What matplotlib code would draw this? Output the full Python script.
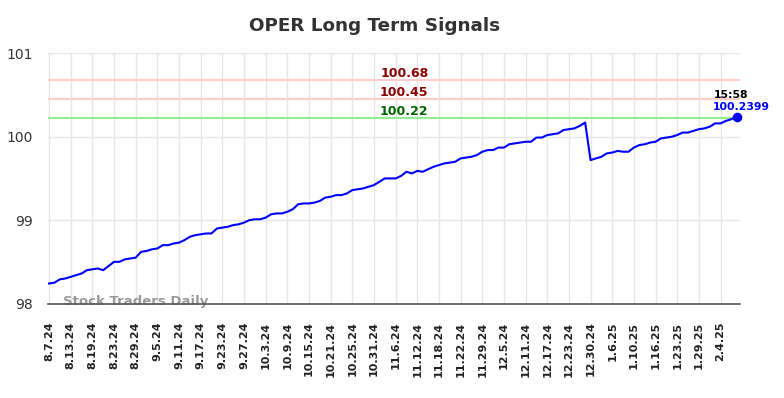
import numpy as np
import matplotlib
matplotlib.use("Agg")
import matplotlib.pyplot as plt

# Data (one value per trading day, 8.7.24 -> 2.7.25)
prices = [
    98.24, 98.25, 98.29, 98.30, 98.32, 98.34, 98.36, 98.40, 98.41, 98.42,
    98.40, 98.45, 98.50, 98.50, 98.53, 98.54, 98.55, 98.62, 98.63, 98.65,
    98.66, 98.70, 98.70, 98.72, 98.73, 98.76, 98.80, 98.82, 98.83, 98.84,
    98.84, 98.90, 98.91, 98.92, 98.94, 98.95, 98.97, 99.00, 99.01, 99.01,
    99.03, 99.07, 99.08, 99.08, 99.10, 99.13, 99.19, 99.20, 99.20, 99.21,
    99.23, 99.27, 99.28, 99.30, 99.30, 99.32, 99.36, 99.37, 99.38, 99.40,
    99.42, 99.46, 99.50, 99.50, 99.50, 99.53, 99.58, 99.56, 99.59, 99.58,
    99.61, 99.64, 99.66, 99.68, 99.69, 99.70, 99.74, 99.75, 99.76, 99.78,
    99.82, 99.84, 99.84, 99.87, 99.87, 99.91, 99.92, 99.93, 99.94, 99.94,
    99.99, 99.99, 100.02, 100.03, 100.04, 100.08, 100.09, 100.10, 100.13, 100.17,
    99.72, 99.74, 99.76, 99.80, 99.81, 99.83, 99.82, 99.82, 99.87, 99.90,
    99.91, 99.93, 99.94, 99.98, 99.99, 100.00, 100.02, 100.05, 100.05, 100.07,
    100.09, 100.10, 100.12, 100.16, 100.16, 100.19, 100.21, 100.2399,
]
tick_labels = [
    "8.7.24", "8.13.24", "8.19.24", "8.23.24", "8.29.24", "9.5.24", "9.11.24",
    "9.17.24", "9.23.24", "9.27.24", "10.3.24", "10.9.24", "10.15.24",
    "10.21.24", "10.25.24", "10.31.24", "11.6.24", "11.12.24", "11.18.24",
    "11.22.24", "11.29.24", "12.5.24", "12.11.24", "12.17.24", "12.23.24",
    "12.30.24", "1.6.25", "1.10.25", "1.16.25", "1.23.25", "1.29.25", "2.4.25",
]
tick_step = 4
signal_levels = [100.68, 100.45, 100.22]
signal_line_colors = ["#ffcccc", "#ffcccc", "#90ee90"]
signal_text_colors = ["#8b0000", "#8b0000", "#006400"]
last_time = "15:58"

x = np.arange(len(prices))

fig = plt.figure(figsize=(7.84, 3.98), dpi=100)
ax = fig.add_axes([0.0612, 0.2374, 0.8827, 0.6286])

ax.set_xlim(-0.2, 127.6)
ax.set_ylim(98, 101)

for lvl, lc, tc in zip(signal_levels, signal_line_colors, signal_text_colors):
    ax.axhline(lvl, color=lc, lw=1.5, zorder=1)
    ax.text(65.6, lvl + 0.005, f"{lvl:.2f}", color=tc, fontsize=9, fontweight="bold",
            ha="center", va="bottom")

ax.plot(x, prices, color="blue", lw=1.5, zorder=3)
ax.scatter([x[-1]], [prices[-1]], s=35, color="blue", zorder=4, clip_on=False)
ax.text(x[-1] - 4.2, prices[-1] + 0.227, last_time, fontsize=7.8, fontweight="bold",
        ha="left", va="baseline", color="black")
ax.text(x[-1] - 4.4, prices[-1] + 0.084, f"{prices[-1]:.4f}", fontsize=7.8,
        fontweight="bold", ha="left", va="baseline", color="blue")

ax.set_xticks(np.arange(0, len(prices), tick_step)[:len(tick_labels)])
ax.set_xticklabels(tick_labels, rotation=90, fontsize=8, fontweight="bold",
                   color="#222222")
ax.set_yticks([98, 99, 100, 101])
ax.set_yticklabels(["98", "99", "100", "101"], fontsize=10, color="#333333")
ax.tick_params(axis="x", length=0, pad=13)
ax.tick_params(axis="y", length=0, pad=11)
ax.grid(True, color="#e6e6e6", lw=1)
ax.set_axisbelow(True)
for s in ["top", "right", "left"]:
    ax.spines[s].set_visible(False)
ax.spines["bottom"].set_color("#555555")
ax.spines["bottom"].set_linewidth(1.2)
ax.spines["bottom"].set_zorder(5)

ax.text(2.5, 98.02, "Stock Traders Daily", fontsize=9.5, fontweight="bold",
        color="#999999", ha="left", va="center", zorder=2)

fig.text(0.4777, 0.935, "OPER Long Term Signals", fontsize=13.2, fontweight="bold",
         color="#333333", ha="center", va="center")

fig.savefig("out.png", dpi=100)
